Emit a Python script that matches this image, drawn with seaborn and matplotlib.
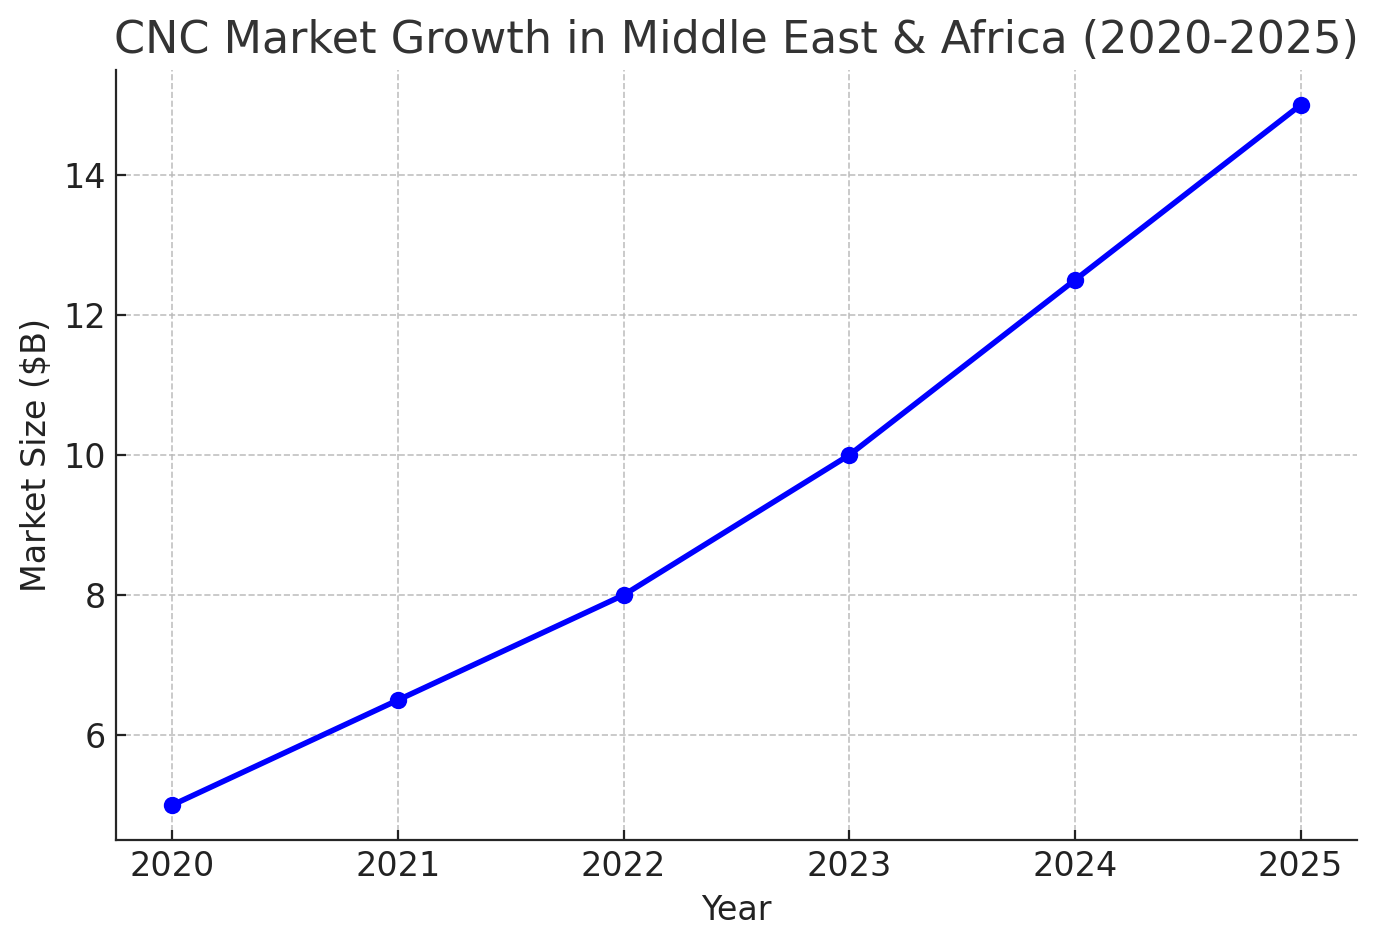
import matplotlib
matplotlib.use("Agg")
import matplotlib.pyplot as plt
import seaborn as sns
import pandas as pd

years = [2020, 2021, 2022, 2023, 2024, 2025]
market_size = [5, 6.5, 8, 10, 12.5, 15]

df = pd.DataFrame({"Year": years, "Market Size ($B)": market_size})

sns.set_style("ticks")
plt.rcParams['font.family'] = ['DejaVu Sans']

fig = plt.figure(figsize=(6.89, 4.735), dpi=200)
ax = fig.add_axes([116/1378, 1 - 840/947, (1357-116)/1378, (840-70)/947])
sns.lineplot(data=df, x="Year", y="Market Size ($B)", marker="o", color="blue",
             linewidth=2, markersize=5.5, markeredgecolor="blue", ax=ax)
ax.set_title("CNC Market Growth in Middle East & Africa (2020-2025)", fontsize=16, color="#333333")
ax.set_xlabel("Year", fontsize=12, color="#222222")
ax.set_ylabel("Market Size ($B)", fontsize=12, color="#222222")
ax.set_xticks(years)
ax.set_yticks([6, 8, 10, 12, 14])
ax.tick_params(labelsize=12, colors="#222222", direction="in", length=3.5, pad=3.5)
ax.set_xlim(2019.75, 2025.25)
ax.set_ylim(4.5, 15.5)
ax.grid(True, linestyle="--", linewidth=0.6, color="#bbbbbb", alpha=0.9)
sns.despine(ax=ax)
fig.savefig("out.png", dpi=200)
